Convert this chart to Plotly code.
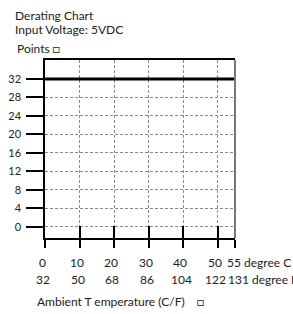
import plotly.graph_objects as go

# Data
temp_c = [0, 10, 20, 30, 40, 50, 55]
temp_f = [32, 50, 68, 86, 104, 122, 131]
curve_x = [0, 55]
curve_y = [32, 32]
y_ticks = [0, 4, 8, 12, 16, 20, 24, 28, 32]

FONT = "Lato"
TXT = "#222"

fig = go.Figure()
fig.add_trace(go.Scatter(x=curve_x, y=curve_y, mode="lines",
                         line=dict(color="black", width=3), showlegend=False,
                         hoverinfo="skip"))
# invisible trace for overlay axis (inner part of the crossing ticks)
fig.add_trace(go.Scatter(x=curve_x, y=curve_y, mode="lines", xaxis="x2",
                         line=dict(color="rgba(0,0,0,0)"), showlegend=False,
                         hoverinfo="skip"))

# x tick labels (two rows) as annotations on the x scale
ann = []
n = len(temp_c)
for i, (c, f) in enumerate(zip(temp_c, temp_f)):
    last = i == n - 1
    ann.append(dict(text=f"{c} degree C" if last else str(c), x=c, xref="x",
                    yref="paper", y=-0.135, showarrow=False,
                    xanchor="left" if last else "center", yanchor="middle",
                    xshift=-10 if last else -3, font=dict(size=12)))
    ann.append(dict(text=f"{f} degree F" if last else str(f), x=c, xref="x",
                    yref="paper", y=-0.2315, showarrow=False,
                    xanchor="left" if last else "center", yanchor="middle",
                    xshift=-9 if last else -2, font=dict(size=12)))

ann += [
    dict(text="Derating Chart", xref="paper", yref="paper", x=-0.1684, y=1.25,
         xanchor="left", yanchor="middle", showarrow=False, font=dict(size=12)),
    dict(text="Input Voltage: 5VDC", xref="paper", yref="paper", x=-0.1684, y=1.174,
         xanchor="left", yanchor="middle", showarrow=False, font=dict(size=12)),
    dict(text="Points □", xref="paper", yref="paper", x=-0.158, y=1.062,
         xanchor="left", yanchor="middle", showarrow=False, font=dict(size=12)),
    dict(text="Ambient T emperature (C/F)    □", xref="paper", yref="paper",
         x=-0.0526, y=-0.354, xanchor="left", yanchor="middle", showarrow=False,
         font=dict(size=12)),
]

fig.update_layout(
    width=293, height=314,
    margin=dict(l=45, r=58, t=60, b=76, autoexpand=False),
    paper_bgcolor="white", plot_bgcolor="white",
    font=dict(family=FONT, size=12, color=TXT),
    xaxis=dict(range=[0, 55], tickmode="array", tickvals=temp_c, showticklabels=False,
               ticks="outside", ticklen=8, tickwidth=1.5, tickcolor="black",
               automargin=False,
               showline=True, linecolor="black", linewidth=1.5, mirror=True,
               showgrid=True, gridcolor="#8a8a8a", griddash="3px,2px", gridwidth=1,
               zeroline=False),
    xaxis2=dict(range=[0, 55], overlaying="x", anchor="y", side="bottom",
                tickmode="array", tickvals=temp_c, ticks="inside", ticklen=12,
                tickwidth=1.5, tickcolor="black", showticklabels=False,
                showgrid=False, zeroline=False, showline=False, automargin=False),
    yaxis=dict(range=[-2.45, 36.1], tickmode="array", tickvals=y_ticks,
               ticks="outside", ticklen=17, tickwidth=1.5, tickcolor="black",
               automargin=False, ticklabelstandoff=3,
               showline=True, linecolor="black", linewidth=1.5,
               showgrid=True, gridcolor="#8a8a8a", griddash="3px,2px", gridwidth=1,
               zeroline=False, tickfont=dict(family=FONT, size=11, color=TXT)),
    shapes=[dict(type="line", xref="paper", yref="paper", x0=1, x1=1, y0=0, y1=1,
                 line=dict(color="#777", width=2))],
    annotations=ann,
)

fig.write_html("out.html", config={"displayModeBar": False},
               post_script="document.body.style.margin='0';document.body.style.overflow='hidden';")
